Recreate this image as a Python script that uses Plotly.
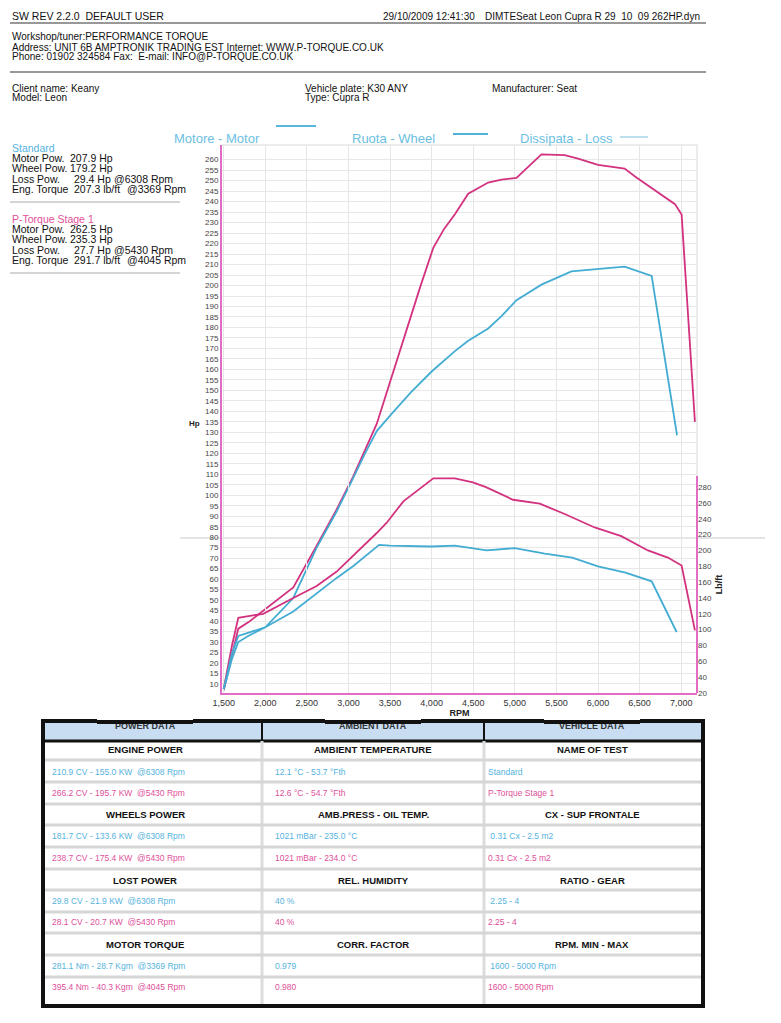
import plotly.graph_objects as go

# ---------------- data ----------------
rpm_st1_pow = [1500, 1600, 1676, 1800, 1976, 2337, 2618, 2855, 3055, 3340, 3460, 3660, 3860, 4020, 4150,
               4280, 4440, 4680, 4840, 5020, 5320, 5600, 5760, 6000, 6320, 6445, 6685, 6925, 7005, 7165]
hp_st1 = [7, 24, 36.4, 39.5, 45, 56, 76, 93, 108.8, 134, 149, 174.5, 199, 218, 227,
          234, 243.8, 249.1, 250.5, 251.3, 262.5, 262.2, 260.5, 257.5, 255.8, 252, 245.5, 238.8, 233.8, 135]

rpm_std_pow = [1500, 1600, 1676, 1800, 2000, 2337, 2618, 2855, 3055, 3200, 3340, 3500, 3750, 4000, 4280,
               4440, 4680, 4840, 5020, 5320, 5680, 6000, 6320, 6645, 6950]
hp_std = [7, 22, 30, 33, 37, 51, 75, 92, 108, 120, 130.6, 138, 149, 159, 168.7,
          173.7, 179.5, 185.4, 193, 200.4, 206.7, 208, 209, 204.6, 128.6]

rpm_st1_tq = [1500, 1600, 1676, 1800, 1976, 2337, 2618, 2855, 3055, 3340, 3460, 3660, 4020, 4280,
              4496, 4653, 4978, 5300, 5600, 5960, 6280, 6600, 6840, 7005, 7165]
tq_st1 = [25, 80, 115, 117, 120, 140, 155, 173, 193, 222, 235, 262, 291, 291,
          286, 280, 264, 259, 246, 229, 218, 200, 191, 181, 99]

rpm_std_tq = [1500, 1600, 1676, 1800, 2000, 2337, 2618, 2855, 3055, 3369, 3500, 4000, 4280, 4660,
              5000, 5360, 5690, 6000, 6330, 6645, 6945]
tq_std = [25, 70, 92, 96, 103, 123, 146, 165, 180, 207, 206, 205, 206, 200,
          203, 196, 191, 180, 172, 161, 97]

hp_ticks = list(range(10, 261, 5))
tq_ticks = list(range(20, 281, 20))
rpm_ticks = list(range(1500, 7001, 500))

legend_labels = ["Motore - Motor", "Ruota - Wheel", "Dissipata - Loss"]

std_summary = [("Motor Pow.", "207.9 Hp", ""), ("Wheel Pow.", "179.2 Hp", ""),
               ("Loss Pow.", "29.4 Hp", "@6308 Rpm"), ("Eng. Torque", "207.3 lb/ft", "@3369 Rpm")]
st1_summary = [("Motor Pow.", "262.5 Hp", ""), ("Wheel Pow.", "235.3 Hp", ""),
               ("Loss Pow.", "27.7 Hp", "@5430 Rpm"), ("Eng. Torque", "291.7 lb/ft", "@4045 Rpm")]

tbl_top_headers = ["POWER DATA", "AMBIENT DATA", "VEHICLE DATA"]
tbl_power_hdr = ["ENGINE POWER", "WHEELS POWER", "LOST POWER", "MOTOR TORQUE"]
tbl_power_std = ["210.9 CV - 155.0 KW  @6308 Rpm", "181.7 CV - 133.6 KW  @6308 Rpm",
                 "29.8 CV - 21.9 KW  @6308 Rpm", "281.1 Nm - 28.7 Kgm  @3369 Rpm"]
tbl_power_st1 = ["266.2 CV - 195.7 KW  @5430 Rpm", "238.7 CV - 175.4 KW  @5430 Rpm",
                 "28.1 CV - 20.7 KW  @5430 Rpm", "395.4 Nm - 40.3 Kgm  @4045 Rpm"]
tbl_amb_hdr = ["AMBIENT TEMPERATURE", "AMB.PRESS - OIL TEMP.", "REL. HUMIDITY", "CORR. FACTOR"]
tbl_amb_std = ["12.1 °C - 53.7 °Fth", "1021 mBar - 235.0 °C", "40 %", "0.979"]
tbl_amb_st1 = ["12.6 °C - 54.7 °Fth", "1021 mBar - 234.0 °C", "40 %", "0.980"]
tbl_veh_hdr = ["NAME OF TEST", "CX - SUP FRONTALE", "RATIO - GEAR", "RPM. MIN - MAX"]
tbl_veh_std = ["Standard", " 0.31 Cx - 2.5 m2", " 2.25 - 4", " 1600 - 5000 Rpm"]
tbl_veh_st1 = ["P-Torque Stage 1", "0.31 Cx - 2.5 m2", "2.25 - 4", "1600 - 5000 Rpm"]

# ---------------- styles ----------------
PINK = "#d2327f"
BLUE = "#43acd2"
AXPINK = "#e26cc4"
TXTBLUE = "#55b3dd"
TXTPINK = "#e0509a"
FONT = "Liberation Sans"

W, H = 781, 1023
L, R, T, B = 222, 697, 145, 693


def px(X):
    return (X - L) / (R - L)


def py(Y):
    return (B - Y) / (B - T)


fig = go.Figure()

fig.add_trace(go.Scatter(x=rpm_st1_pow, y=hp_st1, mode="lines", line=dict(color=PINK, width=1.8),
                         xaxis="x", yaxis="y", showlegend=False, name="P-Torque Stage 1 power"))
fig.add_trace(go.Scatter(x=rpm_std_pow, y=hp_std, mode="lines", line=dict(color=BLUE, width=1.8),
                         xaxis="x", yaxis="y", showlegend=False, name="Standard power"))
fig.add_trace(go.Scatter(x=rpm_st1_tq, y=tq_st1, mode="lines", line=dict(color=PINK, width=1.8),
                         xaxis="x", yaxis="y2", showlegend=False, name="P-Torque Stage 1 torque"))
fig.add_trace(go.Scatter(x=rpm_std_tq, y=tq_std, mode="lines", line=dict(color=BLUE, width=1.8),
                         xaxis="x", yaxis="y2", showlegend=False, name="Standard torque"))

shapes = []
ann = []


def text(X, Y, s, size=10, color="#111", xanchor="left", bold=False, family=FONT):
    ann.append(dict(x=px(X), y=py(Y), xref="paper", yref="paper", text=("<b>%s</b>" % s) if bold else s,
                    showarrow=False, xanchor=xanchor, yanchor="middle",
                    font=dict(size=size, color=color, family=family)))


def cover(X0, Y0, X1, Y1, color):
    # opaque box drawn over earlier annotations (used to crop the table header texts like the scan)
    ann.append(dict(x=px((X0 + X1) / 2), y=py((Y0 + Y1) / 2), xref="paper", yref="paper", text="&nbsp;",
                    showarrow=False, xanchor="center", yanchor="middle", width=X1 - X0, height=Y1 - Y0,
                    bgcolor=color, borderpad=0, borderwidth=0, font=dict(size=1)))


def line(X0, Y0, X1, Y1, color, width=1, layer="above"):
    shapes.append(dict(type="line", xref="paper", yref="paper", x0=px(X0), y0=py(Y0), x1=px(X1), y1=py(Y1),
                       line=dict(color=color, width=width), layer=layer))


def rect(X0, Y0, X1, Y1, fill, lc=None, lw=0, layer="below"):
    shapes.append(dict(type="rect", xref="paper", yref="paper", x0=px(X0), y0=py(Y0), x1=px(X1), y1=py(Y1),
                       fillcolor=fill, line=dict(color=lc or fill, width=lw), layer=layer))


# ---- header ----
HS = 10
text(10, 16, "SW REV 2.2.0&nbsp;&nbsp;DEFAULT USER", 10.5)
text(381, 16, "29/10/2009 12:41:30", HS)
text(483, 16, "DIMTESeat Leon Cupra R 29&nbsp;&nbsp;10&nbsp;&nbsp;09 262HP.dyn", HS)
line(10, 23, 706, 23, "#333", 1)
text(10, 37, "Workshop/tuner:PERFORMANCE TORQUE", HS)
text(10, 47, "Address: UNIT 6B AMPTRONIK TRADING EST Internet: WWW.P-TORQUE.CO.UK", HS)
text(10, 57, "Phone: 01902 324584 Fax:&nbsp;&nbsp;E-mail: INFO@P-TORQUE.CO.UK", HS)
line(10, 72, 706, 72, "#333", 1)
text(10, 88, "Client name: Keany", HS)
text(10, 98, "Model: Leon", HS)
text(303, 88, "Vehicle plate: K30 ANY", HS)
text(303, 98, "Type: Cupra R", HS)
text(490, 88, "Manufacturer: Seat", HS)


# ---- left summary ----
def summary(y0, title, color, rows):
    text(10, y0, title, 10.5, color=color)
    for i, (lab, val, at) in enumerate(rows):
        yy = y0 + 10.2 * (i + 1)
        text(10, yy, lab, 10.5)
        vx = 68 if i < 2 else 72
        text(vx, yy, val, 10.5)
        if at:
            text(112 if i == 2 else 125, yy, at, 10.5)


summary(148, "Standard", TXTBLUE, std_summary)
line(10, 202, 180, 202, "#aaa", 1)
summary(219, "P-Torque Stage 1", TXTPINK, st1_summary)
line(10, 273, 180, 273, "#aaa", 1)

# ---- legend ----
text(172, 139, legend_labels[0], 13, color="#6cc0e2")
line(276, 126, 316, 126, "#5ab8dc", 2.2)
text(350, 139, legend_labels[1], 13, color="#6cc0e2")
line(453, 134, 488, 134, "#4fb2d6", 2)
text(518, 139, legend_labels[2], 13, color="#6cc0e2")
line(620, 137, 648, 137, "#a6d6e8", 1.5)

# ---- plot frame ----
line(L, T, R, T, "#d8d8d8", 1, "below")
line(R, T, R, 476, "#d8d8d8", 1, "below")
line(R, 476, R, B, AXPINK, 2)
line(180, 538, 765, 538, "rgba(150,150,150,0.5)", 1, "below")
text(202, 423, "Hp", 8, color="#222", bold=True, xanchor="right")

# ---- table ----
TX0, TX1, TY0, TY1 = 43, 703, 721, 1006
C1, C2 = 262, 484
rect(TX0, TY0, TX1, TY1, "white", layer="below")
rect(TX0, TY0, TX1, 740, "#c8ddf2", layer="below")
line(TX0, 741, TX1, 741, "#111", 3)
line(C1, TY0, C1, 741, "#111", 2)
line(C2, TY0, C2, 741, "#111", 2)
line(C1, 741, C1, TY1, "#dcdcdc", 3)
line(C2, 741, C2, TY1, "#dcdcdc", 3)
for yy in [760, 782, 804, 825, 847, 869, 890, 912, 933, 955, 977]:
    line(TX0, yy, TX1, yy, "#d6d6d6", 3)
shapes.append(dict(type="rect", xref="paper", yref="paper", x0=px(TX0), y0=py(TY0), x1=px(TX1), y1=py(TY1),
                   line=dict(color="#111", width=4), fillcolor="rgba(0,0,0,0)", layer="above"))

hdr_centres = [145, 373, 592]
for cx, s in zip(hdr_centres, tbl_top_headers):
    text(cx, 725.5, s, 9, color="#333", xanchor="center", bold=True)
for cx in hdr_centres:
    cover(cx - 48, 712, cx + 48, 719.5, "white")
    cover(cx - 48, 719.5, cx + 48, 723.5, "#111")

row_y = [(749, 772, 793), (814, 836, 858), (880, 901, 922), (944, 966, 987)]
for i, (yh, ya, yb) in enumerate(row_y):
    text(145, yh, tbl_power_hdr[i], 9.5, color="#111", xanchor="center", bold=True)
    text(373, yh, tbl_amb_hdr[i], 9.5, color="#111", xanchor="center", bold=True)
    text(592, yh, tbl_veh_hdr[i], 9.5, color="#111", xanchor="center", bold=True)
    text(50, ya, tbl_power_std[i], 8.5, color=TXTBLUE)
    text(50, yb, tbl_power_st1[i], 8.5, color=TXTPINK)
    text(273, ya, tbl_amb_std[i], 8.5, color=TXTBLUE)
    text(273, yb, tbl_amb_st1[i], 8.5, color=TXTPINK)
    text(486, ya, tbl_veh_std[i], 8.5, color=TXTBLUE)
    text(486, yb, tbl_veh_st1[i], 8.5, color=TXTPINK)

fig.update_layout(
    width=W, height=H,
    margin=dict(l=L, r=W - R, t=T, b=H - B, pad=0),
    paper_bgcolor="white", plot_bgcolor="rgba(0,0,0,0)",
    showlegend=False,
    shapes=shapes, annotations=ann,
    xaxis=dict(range=[1480, 7190], tickvals=rpm_ticks, tickformat=",", showgrid=True,
               gridcolor="#e6e6e6", gridwidth=1, showline=True, linecolor=AXPINK, linewidth=2,
               ticks="", zeroline=False, tickfont=dict(size=9, color="#333", family=FONT),
               title=dict(text="<b>RPM</b>", font=dict(size=9, color="#222", family=FONT), standoff=0),
               anchor="y"),
    yaxis=dict(range=[5.7, 267], tickvals=hp_ticks, showgrid=True, gridcolor="#e8e8e8", gridwidth=1,
               showline=True, linecolor=AXPINK, linewidth=2, ticks="", zeroline=False,
               tickfont=dict(size=8, color="#444", family=FONT), domain=[0, 1]),
    yaxis2=dict(range=[20, 294], tickvals=tq_ticks, side="right", anchor="x", domain=[0, py(476)],
                showgrid=False, showline=False, ticks="", zeroline=False,
                tickfont=dict(size=8, color="#444", family=FONT),
                title=dict(text="<b>Lb/ft</b>", font=dict(size=9, color="#222", family=FONT), standoff=4)),
)

fig.write_html("out.html", post_script="document.body.style.margin='0px';",
               config={"displayModeBar": False})
